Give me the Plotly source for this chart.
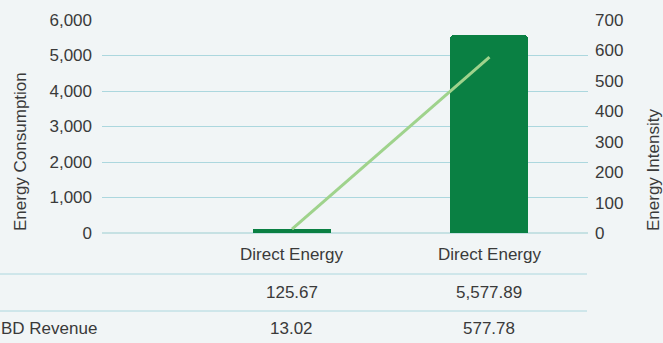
import plotly.graph_objects as go

# ---- data ----
categories = ["Direct Energy", "Direct Energy"]
energy_consumption = [125.67, 5577.89]
energy_intensity = [13.02, 577.78]
consumption_labels = ["125.67", "5,577.89"]
intensity_labels = ["13.02", "577.78"]
row_labels = ["", "BD Revenue"]

# ---- style / layout constants ----
W, H = 663, 343
ML, MR, MT, MB = 102, 75, 20, 110
PW, PH = W - ML - MR, H - MT - MB
BG = "#f1f5f6"
GRID = "#acd7de"
BAR = "#0a8043"
LINE = "#9fd38c"
TXT = "#3a3a3a"
FONT = "Liberation Sans"
FS = 17
BAR_RADII = [0, 4]

def py(pix):  # pixel y -> paper y
    return (MT + PH - pix) / PH

def px(pix):  # pixel x -> paper x
    return (pix - ML) / PW

xs = list(range(len(categories)))

fig = go.Figure()
for i in xs:
    fig.add_trace(go.Bar(
        x=[xs[i]], y=[energy_consumption[i]], width=0.395,
        marker=dict(color=BAR, cornerradius=BAR_RADII[i], line=dict(width=0)),
        yaxis="y", showlegend=False, hoverinfo="skip",
    ))
fig.add_trace(go.Scatter(
    x=xs, y=energy_intensity, mode="lines",
    line=dict(color=LINE, width=3),
    yaxis="y2", showlegend=False, hoverinfo="skip",
))

annotations = []
# axis titles
annotations.append(dict(text="Energy Consumption", xref="paper", yref="paper",
                        x=px(20.5), y=0, xanchor="center", yanchor="bottom",
                        textangle=-90, showarrow=False,
                        font=dict(family=FONT, size=FS, color=TXT)))
annotations.append(dict(text="Energy Intensity", xref="paper", yref="paper",
                        x=px(653), y=0, xanchor="center", yanchor="bottom",
                        textangle=-90, showarrow=False,
                        font=dict(family=FONT, size=FS, color=TXT)))
# table rows
row_y = [254, 292, 328]
for i, c in enumerate(categories):
    annotations.append(dict(text=c, x=xs[i], xref="x", yref="paper", y=py(row_y[0]),
                            showarrow=False, xanchor="center", yanchor="middle",
                            font=dict(family=FONT, size=FS, color=TXT)))
    annotations.append(dict(text=consumption_labels[i], x=xs[i], xref="x", yref="paper",
                            y=py(row_y[1]), showarrow=False, xanchor="center", yanchor="middle",
                            font=dict(family=FONT, size=FS, color=TXT)))
    annotations.append(dict(text=intensity_labels[i], x=xs[i], xref="x", yref="paper",
                            y=py(row_y[2]), showarrow=False, xanchor="center", yanchor="middle",
                            font=dict(family=FONT, size=FS, color=TXT)))
for lbl, yy in zip(row_labels, row_y[1:]):
    if lbl:
        annotations.append(dict(text=lbl, xref="paper", yref="paper", x=px(-1), y=py(yy),
                                xanchor="left", yanchor="middle", showarrow=False,
                                font=dict(family=FONT, size=FS, color=TXT)))

shapes = []
for yy in [274, 311]:
    shapes.append(dict(type="line", xref="paper", yref="paper", x0=px(0), x1=px(587),
                       y0=py(yy), y1=py(yy), line=dict(color=GRID, width=1)))

fig.update_layout(
    width=W, height=H,
    margin=dict(l=ML, r=MR, t=MT, b=MB, pad=0),
    paper_bgcolor=BG, plot_bgcolor=BG,
    bargap=0, barmode="overlay",
    xaxis=dict(range=[-0.962, 1.499], showgrid=False, zeroline=False,
               showticklabels=False, ticks="", showline=False, fixedrange=True),
    yaxis=dict(range=[0, 6000], dtick=1000, tickformat=",", showgrid=True,
               gridcolor=GRID, gridwidth=1, zeroline=True, zerolinecolor="#c6e1e3",
               zerolinewidth=1.5, showline=False, ticks="", ticklabelstandoff=9,
               tickfont=dict(family=FONT, size=FS, color=TXT)),
    yaxis2=dict(range=[0, 700], dtick=100, overlaying="y", side="right",
                showgrid=False, zeroline=False, showline=False, ticks="",
                ticklabelstandoff=6,
                tickfont=dict(family=FONT, size=FS, color=TXT)),
    annotations=annotations,
    shapes=shapes,
)

fig.write_html("out.html")
